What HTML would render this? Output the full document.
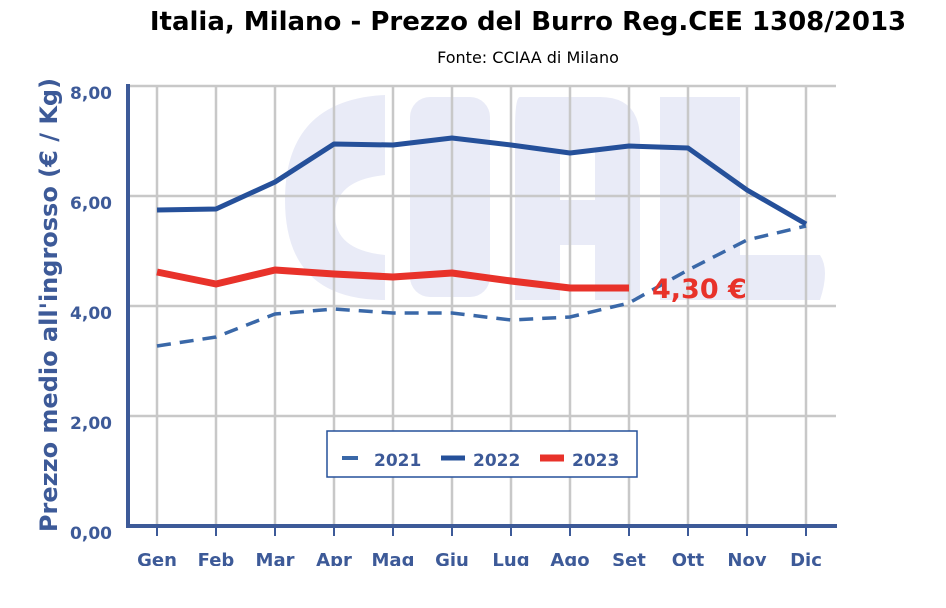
<!DOCTYPE html>
<html><head><meta charset="utf-8"><style>body{margin:0;background:#fff}svg{display:block}</style></head><body>
<svg width="946" height="608" viewBox="0 0 946 608" xmlns="http://www.w3.org/2000/svg" font-family="Verdana, 'DejaVu Sans', sans-serif">
<text x="528" y="30" text-anchor="middle" font-size="26" font-weight="bold" fill="#000">Italia, Milano - Prezzo del Burro Reg.CEE 1308/2013</text>
<text x="528" y="63" text-anchor="middle" font-size="16" fill="#000">Fonte: CCIAA di Milano</text>
<g fill="#e9ebf7">
<path d="M385 95 L385 175 Q335 180 335 215 Q335 250 385 255 L385 300 Q285 300 285 200 Q285 100 385 95Z"/>
<rect x="410" y="97" width="80" height="200" rx="20"/>
<path d="M520 97 L600 97 Q640 97 640 140 L640 300 L595 300 L595 245 L560 245 L560 300 L515 300 L515 130 Q515 97 520 97Z M560 150 L560 200 L595 200 L595 150Z"/>
<path d="M660 97 L740 97 L740 255 L820 255 Q830 270 820 300 L660 300Z"/>
</g>
<g stroke="#c8c8c8" stroke-width="2.5">
<line x1="128" y1="86" x2="836" y2="86"/><line x1="128" y1="196" x2="836" y2="196"/><line x1="128" y1="306" x2="836" y2="306"/><line x1="128" y1="416" x2="836" y2="416"/>
<line x1="157" y1="86" x2="157" y2="526"/><line x1="216" y1="86" x2="216" y2="526"/><line x1="275" y1="86" x2="275" y2="526"/><line x1="334" y1="86" x2="334" y2="526"/><line x1="393" y1="86" x2="393" y2="526"/><line x1="452" y1="86" x2="452" y2="526"/><line x1="511" y1="86" x2="511" y2="526"/><line x1="570" y1="86" x2="570" y2="526"/><line x1="629" y1="86" x2="629" y2="526"/><line x1="688" y1="86" x2="688" y2="526"/><line x1="747" y1="86" x2="747" y2="526"/><line x1="806" y1="86" x2="806" y2="526"/>
</g>
<g stroke="#3d5a98" stroke-width="4" fill="none">
<line x1="128" y1="84" x2="128" y2="528"/><line x1="126" y1="526" x2="837" y2="526"/>
</g>
<g stroke="#3d5a98" stroke-width="2">
<line x1="157" y1="526" x2="157" y2="536"/><line x1="216" y1="526" x2="216" y2="536"/><line x1="275" y1="526" x2="275" y2="536"/><line x1="334" y1="526" x2="334" y2="536"/><line x1="393" y1="526" x2="393" y2="536"/><line x1="452" y1="526" x2="452" y2="536"/><line x1="511" y1="526" x2="511" y2="536"/><line x1="570" y1="526" x2="570" y2="536"/><line x1="629" y1="526" x2="629" y2="536"/><line x1="688" y1="526" x2="688" y2="536"/><line x1="747" y1="526" x2="747" y2="536"/><line x1="806" y1="526" x2="806" y2="536"/>
</g>
<g font-size="17" font-weight="bold" fill="#3d5a98" text-anchor="end">
<text x="112" y="99">8,00</text><text x="112" y="209">6,00</text><text x="112" y="319">4,00</text><text x="112" y="429">2,00</text><text x="112" y="539">0,00</text>
</g>
<text transform="translate(57,305) rotate(-90)" text-anchor="middle" font-size="24" font-weight="bold" fill="#3d5a98">Prezzo medio all'ingrosso (€ / Kg)</text>
<clipPath id="c"><rect x="0" y="0" width="946" height="566"/></clipPath>
<g font-size="18" font-weight="bold" fill="#3d5a98" text-anchor="middle" clip-path="url(#c)">
<text x="157" y="566">Gen</text><text x="216" y="566">Feb</text><text x="275" y="566">Mar</text><text x="334" y="566">Apr</text><text x="393" y="566">Mag</text><text x="452" y="566">Giu</text><text x="511" y="566">Lug</text><text x="570" y="566">Ago</text><text x="629" y="566">Set</text><text x="688" y="566">Ott</text><text x="747" y="566">Nov</text><text x="806" y="566">Dic</text>
</g>
<polyline fill="none" stroke="#3a68a8" stroke-width="3.5" stroke-dasharray="14,9" points="157,346 216,337 275,314 334,309 393,313 452,313 511,320 570,317 629,303 688,270 747,240 806,226"/>
<polyline fill="none" stroke="#25509a" stroke-width="5" stroke-linejoin="round" points="157,210 216,209 275,182 334,144 393,145 452,138 511,145 570,153 629,146 688,148 747,190 806,224"/>
<polyline fill="none" stroke="#e8322a" stroke-width="7" stroke-linejoin="round" points="157,272 216,284 275,270 334,274 393,277 452,273 511,281 570,288 629,288"/>
<text x="652" y="298" font-size="27" font-weight="bold" fill="#e8322a">4,30 €</text>
<rect x="327" y="431" width="310" height="46" fill="#fff" stroke="#25509a" stroke-width="1.5"/>
<line x1="342" y1="458" x2="358" y2="458" stroke="#3a68a8" stroke-width="4"/>
<text x="374" y="466" font-size="17" font-weight="bold" fill="#3d5a98">2021</text>
<line x1="441" y1="458" x2="465" y2="458" stroke="#25509a" stroke-width="5"/>
<text x="473" y="466" font-size="17" font-weight="bold" fill="#3d5a98">2022</text>
<line x1="540" y1="458" x2="564" y2="458" stroke="#e8322a" stroke-width="7"/>
<text x="572" y="466" font-size="17" font-weight="bold" fill="#3d5a98">2023</text>
</svg>
</body></html>
